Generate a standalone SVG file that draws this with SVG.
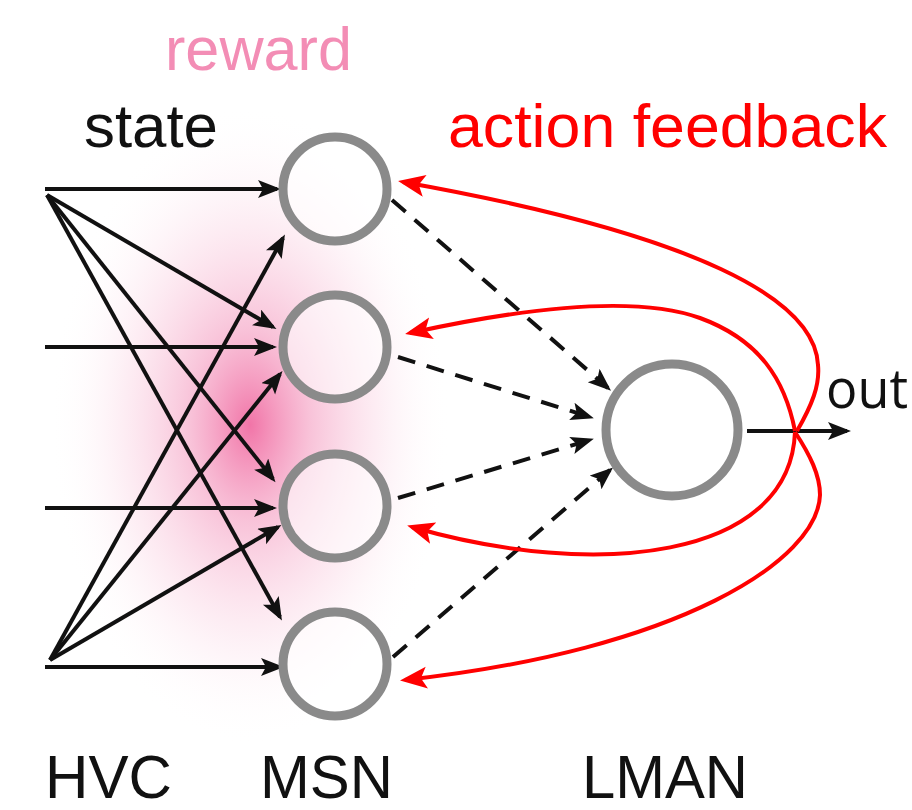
<svg xmlns="http://www.w3.org/2000/svg" width="912" height="810" viewBox="0 0 912 810">
  <defs>
    <radialGradient id="rewardGlow" cx="0.5" cy="0.5" r="0.5">
      <stop offset="0" stop-color="#ef5c98" stop-opacity="0.85"/>
      <stop offset="0.3" stop-color="#f49abf" stop-opacity="0.6"/>
      <stop offset="0.65" stop-color="#fad0e1" stop-opacity="0.35"/>
      <stop offset="1" stop-color="#ffffff" stop-opacity="0"/>
    </radialGradient>
    <marker id="arrowBlack" markerUnits="userSpaceOnUse" markerWidth="24" markerHeight="20" refX="19" refY="9" orient="auto">
      <path d="M0,0 L23,9 L0,18 L5,9 z" fill="#111"/>
    </marker>
    <marker id="arrowRed" markerUnits="userSpaceOnUse" markerWidth="28" markerHeight="24" refX="22" refY="11" orient="auto">
      <path d="M0,0 L27,11 L0,22 L6,11 z" fill="#ff0000"/>
    </marker>
  </defs>
  <style>
    .label { font-family: "Liberation Sans", Arial, sans-serif; font-size: 62px; fill: #111; }
    .syn { fill: none; stroke: #111; stroke-width: 4; marker-end: url(#arrowBlack); }
    .dash { fill: none; stroke: #111; stroke-width: 4; stroke-dasharray: 18 12; marker-end: url(#arrowBlack); }
    .fb { fill: none; stroke: #ff0000; stroke-width: 4; marker-end: url(#arrowRed); }
    .cell { fill: #ffffff; fill-opacity: 0.55; stroke: #8a8a8a; stroke-width: 9; }
  </style>

  <rect width="912" height="810" fill="#ffffff"/>

  <!-- reward signal washing over the striatal layer -->
  <ellipse cx="250" cy="425" rx="200" ry="320" fill="url(#rewardGlow)"/>

  <!-- labels -->
  <text class="label" x="165" y="70" textLength="187" lengthAdjust="spacingAndGlyphs" style="fill:#f38db5">reward</text>
  <text class="label" x="84" y="147" textLength="134" lengthAdjust="spacingAndGlyphs">state</text>
  <text class="label" x="448" y="147" textLength="439" lengthAdjust="spacingAndGlyphs" style="fill:#ff0000">action feedback</text>
  <text x="826" y="408" textLength="82" lengthAdjust="spacingAndGlyphs" style="font-family:'Open Sans','Liberation Sans',sans-serif;font-size:54px;fill:#111">out</text>
  <text class="label" x="45" y="798" textLength="127" lengthAdjust="spacingAndGlyphs">HVC</text>
  <text class="label" x="260" y="798" textLength="133" lengthAdjust="spacingAndGlyphs">MSN</text>
  <text class="label" x="582" y="798" textLength="166" lengthAdjust="spacingAndGlyphs">LMAN</text>

  <g id="connectors">
    <!-- HVC to MSN projections -->
    <path class="syn" d="M45,189 H277"/>
    <path class="syn" d="M47,195 L273,327"/>
    <path class="syn" d="M47,195 L273,479"/>
    <path class="syn" d="M47,195 L280,617"/>
    <path class="syn" d="M45,347 H273"/>
    <path class="syn" d="M45,508 H273"/>
    <path class="syn" d="M45,667 H280"/>
    <path class="syn" d="M50,660 L278,527"/>
    <path class="syn" d="M50,660 L280,374"/>
    <path class="syn" d="M50,660 L283,238"/>
    <!-- MSN to LMAN -->
    <path class="dash" d="M392,200 L608,388"/>
    <path class="dash" d="M398,357 L590,417"/>
    <path class="dash" d="M398,498 L590,440"/>
    <path class="dash" d="M393,657 L610,470"/>
    <!-- output -->
    <path class="syn" d="M747,431 H847"/>
    <!-- action feedback loops -->
    <path class="fb" d="M797,431 C812,405 820,385 818,365 C815,300 700,235 403,182"/>
    <path class="fb" d="M795,431 C785,380 760,340 700,318 C650,300 560,300 410,333"/>
    <path class="fb" d="M795,432 C790,560 595,580 412,527"/>
    <path class="fb" d="M795,432 C810,455 820,475 820,495 C818,560 680,650 405,680"/>
  </g>

  <g id="msn1"><circle class="cell" cx="335" cy="189" r="52"/></g>
  <g id="msn2"><circle class="cell" cx="335" cy="347" r="52"/></g>
  <g id="msn3"><circle class="cell" cx="335" cy="506" r="52"/></g>
  <g id="msn4"><circle class="cell" cx="335" cy="664" r="52"/></g>
  <g id="lman"><circle class="cell" cx="672" cy="430" r="66" style="fill-opacity:1"/></g>
</svg>
